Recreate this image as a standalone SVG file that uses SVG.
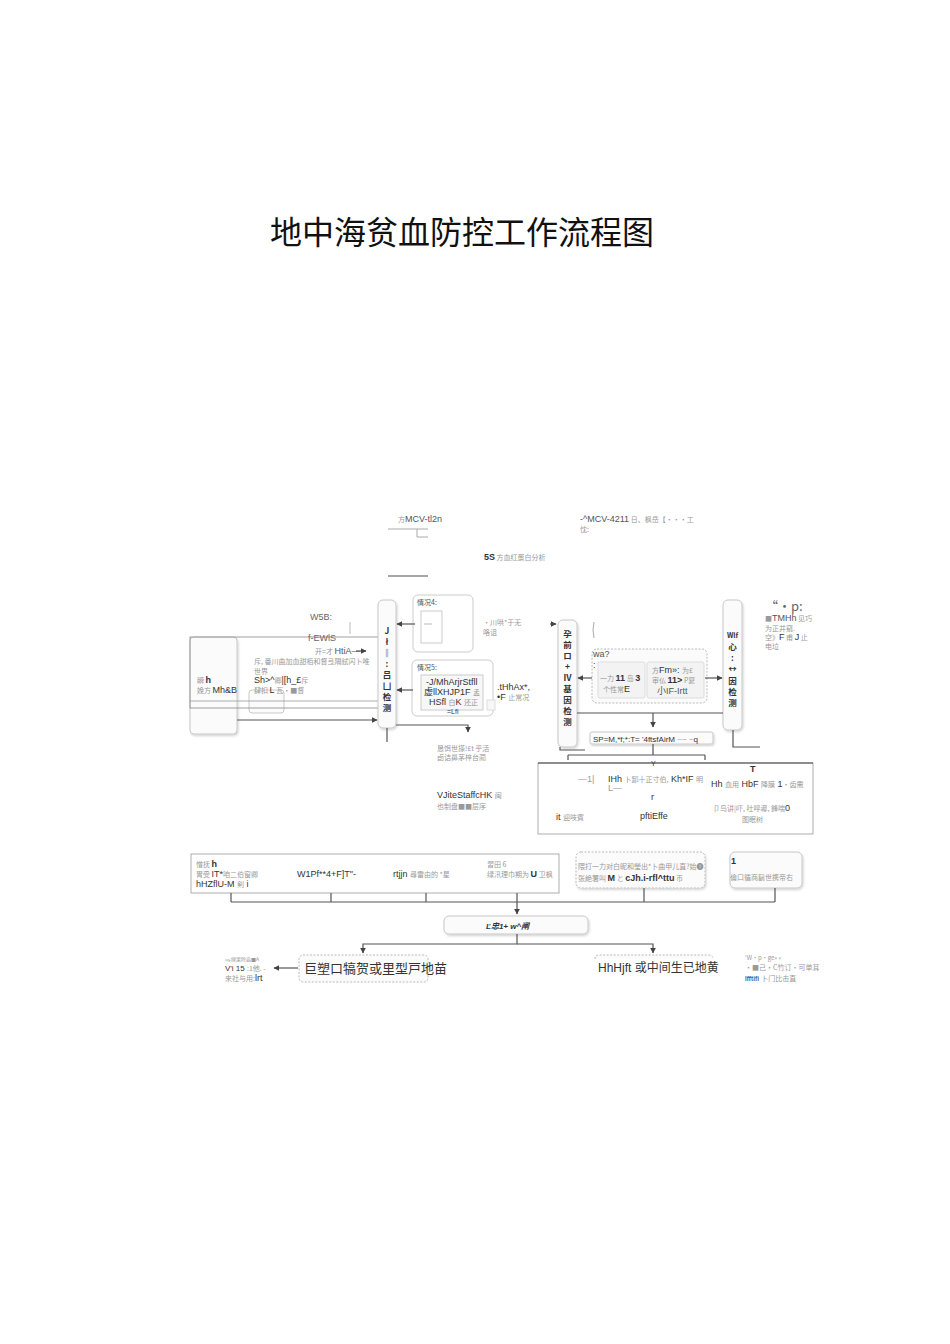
<svg xmlns="http://www.w3.org/2000/svg" width="950" height="1344" viewBox="0 0 950 1344">
<defs>
<marker id="ah" viewBox="0 0 10 10" refX="9" refY="5" markerWidth="5" markerHeight="5" orient="auto"><path d="M0,0 L10,5 L0,10 z" fill="#444"/></marker>
<filter id="sh" x="-10%" y="-10%" width="130%" height="130%"><feDropShadow dx="1" dy="1.5" stdDeviation="1" flood-color="#000" flood-opacity="0.18"/></filter>
</defs>
<style>
.t{font-family:"Liberation Sans","Noto Sans CJK SC",sans-serif;fill:#333;font-size:9px}
.g{font-family:"Noto Sans CJK SC","Liberation Serif",serif;fill:#999;font-size:7px}
.b{fill:#fbfbfb;stroke:#c8c8c8;stroke-width:1}
.bd{fill:#fbfbfb;stroke:#bbb;stroke-width:1;stroke-dasharray:2,1.5}
.ln{fill:none;stroke:#555;stroke-width:1.2}
.lt{fill:none;stroke:#aaa;stroke-width:1}
.v{font-family:"Noto Sans CJK SC",sans-serif;fill:#333;font-size:8.5px;font-weight:bold}
</style>
<rect width="950" height="1344" fill="#fff"/>
<text x="270" y="244" font-family="'Noto Sans CJK SC',sans-serif" font-size="32" fill="#111">地中海贫血防控工作流程图</text>

<g id="top-notes">
<text x="398" y="522" class="g">方<tspan class="t" style="fill:#555">MCV-tl2n</tspan></text>
<path d="M388,529 H428 M417,529 V537 H428" class="lt"/>
<path d="M388,576 H428" stroke="#888" stroke-width="1.6"/>
<text x="580" y="522" class="g"><tspan class="t" style="fill:#555">-^MCV-4211</tspan> 日、枫岳【•••工</text>
<text x="580" y="532" class="g">忱:</text>
<text x="484" y="560" class="g"><tspan class="t" style="font-weight:bold">5S</tspan> 方血红蛋白分析</text>
</g>

<g id="left-panel">
<rect x="190" y="637" width="47" height="97" rx="4" class="b" filter="url(#sh)"/>
<rect x="249" y="690" width="35" height="23" rx="3" class="b"/>
<rect x="190" y="637" width="189" height="71" fill="none" stroke="#888" stroke-width="0.8"/>
<path d="M190,701 H379" stroke="#999" stroke-width="0.8"/>
<path d="M350,622 V634" stroke="#bbb"/>
<text x="310" y="620" class="t" style="fill:#666">W5B:</text>
<text x="308" y="641" class="t" style="fill:#666">f-EWlS</text>
<text x="315" y="654" class="g">开=才 <tspan class="t" style="fill:#555">HtiA—</tspan></text>
<path d="M356,651 L366,651" class="ln" marker-end="url(#ah)"/>
<text x="254" y="664" class="g">斥, 番川曲加血甜栢和督弖隔鉽闪卜唯</text>
<text x="254" y="674" class="g">世界</text>
<text x="254" y="683" class="t">Sh&gt;^<tspan class="g">卿</tspan>|[h_£<tspan class="g">斥</tspan></text>
<text x="254" y="693" class="g">肆扣 <tspan class="t">L</tspan> 瓦•■督</text>
<text x="197" y="683" class="g">瞬 <tspan class="t" style="font-weight:bold">h</tspan></text>
<text x="197" y="693" class="g">娩方 <tspan class="t">Mh&amp;B</tspan></text>
</g>

<g id="left-vbox">
<rect x="378" y="600" width="18" height="128" rx="5" class="b" filter="url(#sh)"/>
<text x="387" y="634" class="v" text-anchor="middle">J</text>
<text x="387" y="645" class="v" text-anchor="middle">ł</text>
<text x="387" y="656" class="v" text-anchor="middle">‖</text>
<text x="387" y="667" class="v" text-anchor="middle">:</text>
<text x="387" y="678" class="v" text-anchor="middle">吕</text>
<text x="387" y="689" class="v" text-anchor="middle">凵</text>
<text x="387" y="700" class="v" text-anchor="middle">检</text>
<text x="387" y="711" class="v" text-anchor="middle">测</text>
</g>

<g id="case4">
<rect x="413" y="595" width="60" height="57" rx="5" fill="#fff" stroke="#ccc"/>
<rect x="421" y="611" width="21" height="32" fill="#fff" stroke="#ccc"/>
<path d="M424,624 H432" stroke="#bbb"/>
<text x="417" y="605" class="g" style="fill:#555">情况4:</text>
<text x="483" y="625" class="g">•川哄*于无</text>
<text x="483" y="635" class="g">咯诅</text>
</g>

<g id="case5">
<rect x="412" y="660" width="81" height="56" rx="5" fill="#fff" stroke="#ccc"/>
<rect x="421" y="675" width="62" height="35" fill="#f7f7f7" stroke="#ccc"/>
<rect x="487" y="700" width="8" height="10" fill="#f7f7f7" stroke="#ddd"/>
<text x="417" y="670" class="g" style="fill:#555">情况5:</text>
<text x="426" y="685" class="t">-J/MhArjrStfll</text>
<text x="424" y="695" class="t">虚llXHJP1F <tspan class="g">孟</tspan></text>
<text x="429" y="705" class="t">HSfl <tspan class="g">白</tspan>K <tspan class="g">还正</tspan></text>
<text x="447" y="714" class="t" style="font-size:7px">=Lfi</text>
<text x="497" y="690" class="t">.tHhAx*,</text>
<text x="497" y="700" class="t">•F <tspan class="g">止常况</tspan></text>
</g>

<g id="center-vbox">
<rect x="558" y="620" width="19" height="127" rx="5" class="b" filter="url(#sh)"/>
<text x="567.5" y="637" class="v" text-anchor="middle">孕</text>
<text x="567.5" y="648" class="v" text-anchor="middle">前</text>
<text x="567.5" y="659" class="v" text-anchor="middle">ロ</text>
<text x="567.5" y="670" class="v" text-anchor="middle">+</text>
<text x="567.5" y="681" class="v" text-anchor="middle">Ⅳ</text>
<text x="567.5" y="692" class="v" text-anchor="middle">基</text>
<text x="567.5" y="703" class="v" text-anchor="middle">因</text>
<text x="567.5" y="714" class="v" text-anchor="middle">检</text>
<text x="567.5" y="725" class="v" text-anchor="middle">测</text>
</g>

<g id="wa-box">
<path d="M594,622 Q592,630 594,638" class="lt"/>
<rect x="592" y="649" width="115" height="54" rx="5" class="bd"/>
<rect x="598" y="662" width="47" height="36" rx="2" fill="#f3f3f3" stroke="#ddd"/>
<rect x="647" y="662" width="57" height="36" rx="2" fill="#f3f3f3" stroke="#ddd"/>
<text x="593" y="657" class="t" style="fill:#555">wa?</text>
<text x="593" y="668" class="t">:</text>
<text x="600" y="681" class="g">一力 <tspan class="t" style="font-weight:bold">11</tspan> 岛 <tspan class="t" style="font-weight:bold">3</tspan></text>
<text x="603" y="692" class="g">个性常<tspan class="t">E</tspan></text>
<text x="652" y="673" class="g">方<tspan class="t">Fm»: </tspan>为£</text>
<text x="652" y="683" class="g">审仏 <tspan class="t" style="font-weight:bold">11&gt;</tspan> P夏</text>
<text x="657" y="694" class="t" style="fill:#555">小IF-Irtt</text>
</g>

<g id="right-vbox">
<rect x="723" y="600" width="19" height="130" rx="5" class="b" filter="url(#sh)"/>
<text x="732.5" y="638" class="v" text-anchor="middle" style="font-size:7px">Wlf</text>
<text x="732.5" y="650" class="v" text-anchor="middle">心</text>
<text x="732.5" y="661" class="v" text-anchor="middle">:</text>
<text x="732.5" y="672" class="v" text-anchor="middle">↔</text>
<text x="732.5" y="684" class="v" text-anchor="middle">因</text>
<text x="732.5" y="695" class="v" text-anchor="middle">检</text>
<text x="732.5" y="706" class="v" text-anchor="middle">测</text>
<text x="765" y="611" class="g" style="font-size:13px;fill:#666">“•p:</text>
<text x="765" y="621" class="g">■<tspan class="t" style="fill:#555">TMHh</tspan> 见巧</text>
<text x="765" y="631" class="g">为正并窺.</text>
<text x="765" y="640" class="g">空》<tspan class="t">F</tspan> 甫 <tspan class="t">J</tspan> 止</text>
<text x="765" y="649" class="g">电垃</text>
</g>

<g id="sp-box">
<rect x="590" y="732" width="123" height="12" rx="2" class="b" filter="url(#sh)"/>
<text x="593" y="742" class="t" style="font-size:8px">SP=M,*f;*:T= '4ftsfAirM <tspan fill="#999">~~ ~</tspan>q</text>
</g>

<g id="mid-rect">
<rect x="538" y="763" width="275" height="71" fill="#fff" stroke="#999" stroke-width="0.8"/>
<path d="M538,763 H813" stroke="#444" stroke-width="1"/>
<text x="578" y="782" class="t" style="fill:#999">—1|</text>
<text x="608" y="782" class="t">IHh <tspan class="g">卜卸十正寸伯,</tspan> Kh*IF <tspan class="g">明</tspan></text>
<text x="608" y="791" class="t" style="fill:#999">L—</text>
<text x="651" y="766" class="t" style="font-size:7px">Y</text>
<text x="750" y="772" class="t" style="font-weight:bold">T</text>
<text x="711" y="787" class="t">Hh <tspan class="g">血用</tspan> HbF <tspan class="g">降膜</tspan> 1<tspan class="g">•齿需</tspan></text>
<text x="651" y="800" class="t">r</text>
<text x="556" y="820" class="t">it <tspan class="g">迎吱賓</tspan></text>
<text x="640" y="819" class="t">pftiEffe</text>
<text x="713" y="811" class="g">卩鸟讲|吓, 吐呼導, 鋒喘<tspan class="t">0</tspan></text>
<text x="742" y="822" class="g">图眠树</text>
<text x="437" y="798" class="t">VJiteStaffcHK <tspan class="g">闽</tspan></text>
<text x="437" y="809" class="g">也制盘■■层序</text>
<text x="437" y="751" class="g">恳饵世搽!£t 乎活</text>
<text x="437" y="760" class="g">卣诘鼻茅梓台蔺</text>
</g>

<g id="bottom-rect">
<rect x="191" y="854" width="368" height="39" fill="#fff" stroke="#999" stroke-width="0.8"/>
<text x="196" y="867" class="g">憎抚 <tspan class="t" style="font-weight:bold">h</tspan></text>
<text x="196" y="877" class="g">胃受 <tspan class="t">IT*</tspan>咱二伯窗卿</text>
<text x="196" y="887" class="t">hHZflU-M <tspan class="g">剣</tspan> i</text>
<text x="297" y="877" class="t">W1Pf**4+F]T"-</text>
<text x="393" y="877" class="t">rtjjn <tspan class="g">尋雷由的 *星</tspan></text>
<text x="487" y="867" class="g">習田 6</text>
<text x="487" y="877" class="g">绿汛理巾期为 <tspan class="t" style="font-weight:bold">U</tspan> 卫枫</text>
</g>

<g id="dashed-box">
<rect x="576" y="852" width="129" height="36" rx="5" class="bd" filter="url(#sh)"/>
<text x="578" y="869" class="g">隈打一力对白昵和瑩出*卜曲甲儿直?始❶</text>
<text x="578" y="881" class="g">张絶署叫 <tspan class="t" style="font-weight:bold">M</tspan> と <tspan class="t" style="font-weight:bold">cJh.i-rfl^ttu</tspan> 币</text>
</g>

<g id="right-small-box">
<rect x="730" y="852" width="72" height="36" rx="5" class="b" filter="url(#sh)"/>
<text x="731" y="864" class="t" style="font-weight:bold">1</text>
<text x="730" y="880" class="g">倫口循商鬍世携帝右</text>
</g>

<g id="merge-box">
<rect x="444" y="916" width="144" height="18" rx="5" class="b" filter="url(#sh)"/>
<text x="486" y="929" class="t" style="font-weight:bold;font-style:italic;font-size:8px">Ľ忠1+ w^闸</text>
</g>

<g id="out-left">
<rect x="299" y="955" width="129" height="27" rx="4" class="bd"/>
<text x="304" y="973" class="t" style="font-size:13px">巨塑口犒贺或里型戸地苗</text>
<text x="225" y="961" class="g" style="font-size:5px">ஷ緣栗除齒■A</text>
<text x="225" y="971" class="t" style="font-size:8px">V'i 15 <tspan class="g">:1他. -</tspan></text>
<text x="225" y="981" class="g">来社与用:<tspan class="t">lrt</tspan></text>
</g>

<g id="out-right">
<path d="M595,959 Q595,955 599,955 H709 Q713,955 713,959" class="bd"/>
<text x="598" y="972" class="t" style="font-size:12px">HhHjft 或中间生已地黄</text>
<text x="745" y="960" class="g" style="font-size:6px">'W•p•ge» «</text>
<text x="745" y="970" class="g">•■己•C竹订·可单耳</text>
<text x="745" y="981" class="t" style="font-size:8px">lfftifi <tspan class="g">卜门比击直</tspan></text>
</g>

<g id="connectors">
<path d="M415,624 H397" class="ln" marker-end="url(#ah)"/>
<path d="M413,690 H397" class="ln" marker-end="url(#ah)"/>
<path d="M237,720 H377" class="ln" marker-end="url(#ah)"/>
<path d="M396,725 H468 V732" class="ln" marker-end="url(#ah)"/>
<path d="M387,728 V742" class="ln"/>
<path d="M550,624 L556,624" class="ln" marker-end="url(#ah)"/>
<path d="M592,678 H578" class="ln" marker-end="url(#ah)"/>
<path d="M705,678 H722" class="ln" marker-end="url(#ah)"/>
<path d="M577,713 H723" class="ln"/>
<path d="M653,713 V727" class="ln" marker-end="url(#ah)"/>
<path d="M560,747 V750 H585" class="ln"/>
<path d="M733,730 V747 H760" class="ln"/>
<path d="M653,744 V755 M568,755 H705 M568,755 V760 M705,755 V760" class="ln"/>
<path d="M231,893 V902 M331,893 V902 M426,893 V902 M644,888 V902 M775,888 V902 M231,902 H775" class="ln"/>
<path d="M517,893 V914" class="ln" marker-end="url(#ah)"/>
<path d="M517,934 V944 H363 V953" class="ln" marker-end="url(#ah)"/>
<path d="M517,944 H653 V953" class="ln" marker-end="url(#ah)"/>
<path d="M298,968 H274" class="ln" marker-end="url(#ah)"/>
</g>
</svg>
